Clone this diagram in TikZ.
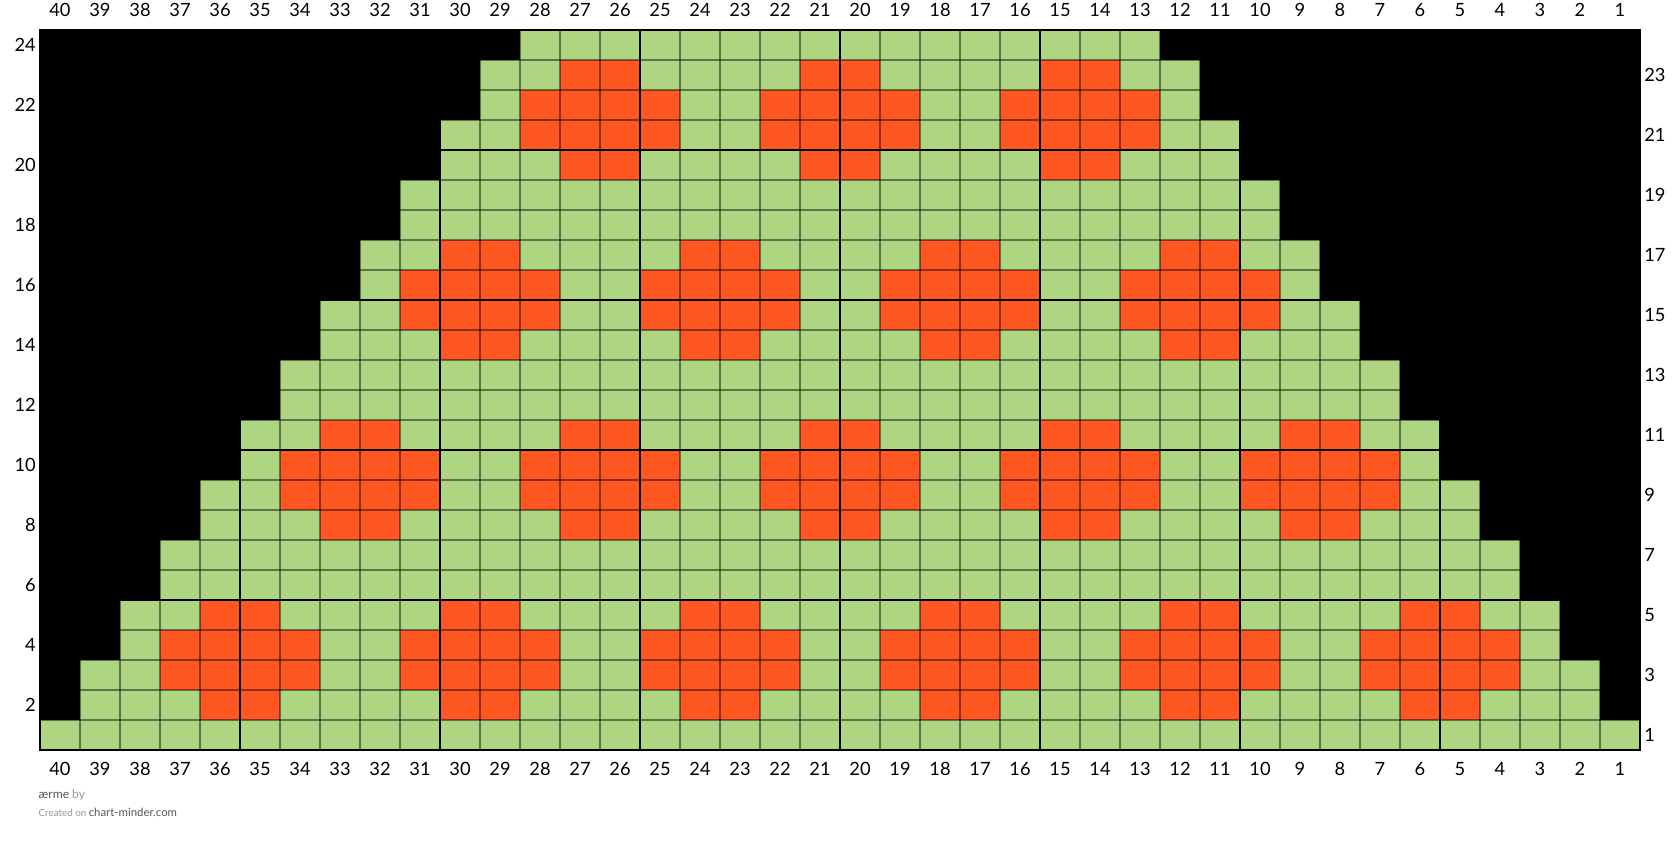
\documentclass[tikz,border=0pt]{standalone}
\usepackage{fontspec}
\setmainfont{Lato}
\usepackage{xcolor}
\usepackage{tikz}
\usetikzlibrary{positioning}
\definecolor{StitchGreen}{RGB}{174, 213, 129}
\definecolor{StitchOrange}{RGB}{255, 87, 34}
\definecolor{FootDark}{RGB}{85, 85, 85}
\definecolor{FootLight}{RGB}{150, 150, 150}
\tikzset{
    thin grid/.style={draw=black, line width=0.8pt, opacity=0.45},
    thick grid/.style={draw=black, line width=1.4pt},
    num label/.style={font=\fontsize{13}{15}\selectfont, inner sep=0pt},
    foot text/.style={anchor=base west, inner sep=0pt},
}

\begin{document}
\begin{tikzpicture}[x=1cm, y=0.75cm]
    \useasboundingbox (-1,-3.1) rectangle (41,25);
    % chart background
    \fill[StitchGreen] (0,0) rectangle (40,24);
    % no stitch
    \foreach \r in {2,...,24} {
        \pgfmathtruncatemacro{\k}{floor(\r/2)}
        \fill[black] (0,\r-1) rectangle (\k,\r);
        \fill[black] (40-\k,\r-1) rectangle (40,\r);
    }
    % orange motifs
    \foreach \b/\cl in {2/{36,30,24,18,12,6}, 8/{33,27,21,15,9}, 14/{30,24,18,12}, 20/{27,21,15}} {
        \foreach \a in \cl {
            \fill[StitchOrange] (40-\a,\b-1) rectangle (42-\a,\b);
            \fill[StitchOrange] (39-\a,\b) rectangle (43-\a,\b+2);
            \fill[StitchOrange] (40-\a,\b+2) rectangle (42-\a,\b+3);
        }
    }
    % grid
    \foreach \x in {1,...,39} \draw[thin grid] (\x,0) -- (\x,24);
    \foreach \y in {1,...,23} \draw[thin grid] (0,\y) -- (40,\y);
    \foreach \x in {5,10,...,35} \draw[thick grid] (\x,0) -- (\x,24);
    \foreach \y in {5,10,15,20} \draw[thick grid] (0,\y) -- (40,\y);
    \draw[thick grid] (0,0) rectangle (40,24);
    % numbering
    \foreach \c in {1,...,40} {
        \node[num label] (top-\c) at (40.5-\c,24.667) {\c};
        \node[num label] (bot-\c) at (40.5-\c,-0.633) {\c};
    }
    \foreach \r in {2,4,...,24} \node[num label, anchor=east] (left-\r) at (-0.1,\r-0.5) {\r};
    \foreach \r in {1,3,...,23} \node[num label, anchor=west] (right-\r) at (40.1,\r-0.5) {\r};
    % footer
    \node[foot text, font=\fontsize{8.6}{10}\selectfont] (maker) at (-0.04,-1.63) {\textcolor{FootDark}{ærme} \textcolor{FootLight}{by}};
    \node[foot text] (site) at (-0.04,-2.22) {{\fontsize{7}{8}\selectfont\textcolor{FootLight}{Created on}}\,{\fontsize{8.1}{9}\selectfont\textcolor{FootDark}{chart-minder.com}}};
\end{tikzpicture}
\end{document}
